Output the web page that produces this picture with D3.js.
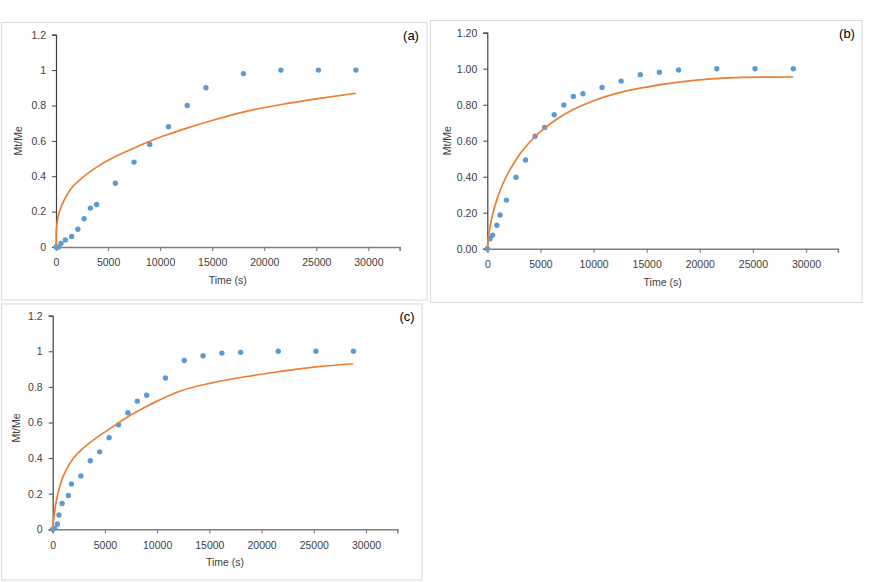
<!DOCTYPE html>
<html>
<head>
<meta charset="utf-8">
<script src="https://cdn.jsdelivr.net/npm/d3@7/dist/d3.min.js"></script>
<style>
  html, body { margin: 0; padding: 0; background: #ffffff; }
  svg { display: block; }
  text { font-family: "Liberation Sans", Arial, sans-serif; }
</style>
</head>
<body>
<svg id="chart" width="888" height="582"></svg>
<script>
// ---------- Data ----------
const xTicks = [0, 5000, 10000, 15000, 20000, 25000, 30000];
const yTicks = [0, 0.2, 0.4, 0.6, 0.8, 1.0, 1.2];

// Panel (a)
const timeA = [0, 240, 480, 900, 1500, 2100, 2700, 3300, 3900, 5700, 7500, 9000, 10800, 12600, 14400, 18000, 21600, 25200, 28800];
const valA  = [0, 0, 0.02, 0.04, 0.06, 0.10, 0.16, 0.22, 0.24, 0.36, 0.48, 0.58, 0.68, 0.80, 0.90, 0.98, 1.0, 1.0, 1.0];
const fitTimeA = [0, 20, 60, 160, 420, 700, 1300, 2600, 4200, 5800, 7400, 9000, 10600, 12200, 15400, 18600, 21800, 25000, 28800];
const fitValA  = [0, 0.078, 0.113, 0.157, 0.215, 0.255, 0.318, 0.395, 0.462, 0.514, 0.557, 0.598, 0.633, 0.665, 0.722, 0.771, 0.807, 0.837, 0.869];

// Panel (b)
const timeB = [0, 250, 500, 900, 1200, 1800, 2700, 3600, 4500, 5400, 6300, 7200, 8100, 9000, 10800, 12600, 14400, 16200, 18000, 21600, 25200, 28800];
const valB  = [0, 0.055, 0.075, 0.13, 0.187, 0.27, 0.397, 0.493, 0.625, 0.674, 0.744, 0.798, 0.846, 0.861, 0.896, 0.931, 0.967, 0.98, 0.993, 1.0, 1.0, 1.0];
const fitTimeB = [0, 100, 250, 500, 1000, 1500, 2000, 2500, 3000, 4000, 5000, 6000, 7000, 8000, 10000, 12000, 15000, 18000, 21000, 24000, 28800];
const fitValB  = [0, 0.06, 0.12, 0.19, 0.29, 0.365, 0.425, 0.475, 0.52, 0.593, 0.65, 0.697, 0.737, 0.77, 0.822, 0.86, 0.898, 0.925, 0.943, 0.952, 0.954];

// Panel (c)
const timeC = [0, 200, 450, 600, 900, 1500, 1800, 2700, 3600, 4500, 5400, 6300, 7200, 8100, 9000, 10800, 12600, 14400, 16200, 18000, 21600, 25200, 28800];
const valC  = [0, 0.005, 0.03, 0.08, 0.145, 0.19, 0.255, 0.30, 0.385, 0.435, 0.515, 0.587, 0.655, 0.72, 0.753, 0.85, 0.948, 0.975, 0.99, 0.994, 1.0, 1.0, 1.0];
const fitTimeC = [0, 50, 124, 287, 536, 862, 1341, 1973, 2930, 4213, 5171, 6300, 7240, 8838, 10000, 12027, 15225, 18414, 21603, 24801, 28786];
const fitValC  = [0, 0.035, 0.07, 0.14, 0.21, 0.275, 0.34, 0.398, 0.456, 0.515, 0.553, 0.598, 0.634, 0.686, 0.72, 0.773, 0.823, 0.857, 0.885, 0.910, 0.930];

const panelLabels = ["(a)", "(b)", "(c)"];
const xTitle = "Time (s)";
const yTitle = "Mt/Me";

// ---------- Layout ----------
const panels = [
  { t: timeA, v: valA, ft: fitTimeA, fv: fitValA, label: panelLabels[0], fmt: d3.format("~g"),
    frame: [1.5, 22.5, 425.5, 277.5], x: [56, 399.6], y: [247, 34.7],
    yLab: [18, 140.8], tag: [411, 39.5] },
  { t: timeB, v: valB, ft: fitTimeB, fv: fitValB, label: panelLabels[1], fmt: d3.format(".2f"),
    frame: [430.5, 20.5, 431.5, 282], x: [487.3, 837.9], y: [248.7, 32.7],
    yLab: [447, 140.7], tag: [847, 37.5] },
  { t: timeC, v: valC, ft: fitTimeC, fv: fitValC, label: panelLabels[2], fmt: d3.format("~g"),
    frame: [1.5, 304, 420.5, 276], x: [52.7, 397.3], y: [529.3, 315.7],
    yLab: [16, 428], tag: [407, 320.5] }
];

const svg = d3.select("#chart");
const blue = "#5B9BD5", orange = "#ED7D31";

panels.forEach(p => {
  const g = svg.append("g");
  // frame
  g.append("rect")
    .attr("x", p.frame[0]).attr("y", p.frame[1])
    .attr("width", p.frame[2]).attr("height", p.frame[3])
    .attr("fill", "none").attr("stroke", "#D9D9D9").attr("stroke-width", 1);

  const xs = d3.scaleLinear().domain([0, 33000]).range(p.x);
  const ys = d3.scaleLinear().domain([0, 1.2]).range(p.y);

  // y axis
  const yAx = g.append("g")
    .attr("transform", `translate(${p.x[0]},0)`)
    .call(d3.axisLeft(ys).tickValues(yTicks).tickSize(4).tickPadding(6).tickFormat(p.fmt));
  yAx.select(".domain").attr("stroke", "#404040").attr("stroke-width", 1.2);
  yAx.selectAll(".tick line").attr("stroke", "#404040");
  yAx.selectAll("text").attr("font-size", 10.5).attr("fill", "#404040")
     .attr("font-family", "'Liberation Sans', Arial, sans-serif");

  // x axis
  const xAx = g.append("g")
    .attr("transform", `translate(0,${p.y[0]})`)
    .call(d3.axisBottom(xs).tickValues(xTicks).tickSize(4).tickPadding(8).tickFormat(d3.format("d")));
  xAx.select(".domain").attr("stroke", "#7F7F7F").attr("stroke-width", 1.6);
  xAx.selectAll(".tick line").attr("stroke", "#7F7F7F").attr("stroke-width", 1.2);
  xAx.selectAll("text").attr("font-size", 10.5).attr("fill", "#404040")
     .attr("font-family", "'Liberation Sans', Arial, sans-serif");

  // axis titles
  g.append("text")
    .attr("x", (p.x[0] + p.x[1]) / 2).attr("y", p.y[0] + 37)
    .attr("text-anchor", "middle").attr("font-size", 10.5).attr("fill", "#404040")
    .text(xTitle);
  g.append("text")
    .attr("transform", `translate(${p.yLab[0] + 4},${p.yLab[1]}) rotate(-90)`)
    .attr("text-anchor", "middle").attr("font-size", 10.5).attr("fill", "#404040")
    .text(yTitle);

  // panel tag
  g.append("text")
    .attr("x", p.tag[0]).attr("y", p.tag[1])
    .attr("text-anchor", "middle").attr("font-size", 13).attr("fill", "#000")
    .text(p.label);

  // data points
  const pts = p.t.map((d, i) => ({ t: d, v: p.v[i] }));
  g.append("g").selectAll("circle").data(pts).enter().append("circle")
    .attr("cx", d => xs(d.t)).attr("cy", d => ys(d.v))
    .attr("r", 2.7).attr("fill", blue);

  // fitted curve
  const fit = p.ft.map((d, i) => ({ t: d, v: p.fv[i] }));
  g.append("path").datum(fit)
    .attr("fill", "none").attr("stroke", orange).attr("stroke-width", 1.7)
    .attr("d", d3.line().x(d => xs(d.t)).y(d => ys(d.v)).curve(d3.curveMonotoneX));
});
</script>
</body>
</html>
